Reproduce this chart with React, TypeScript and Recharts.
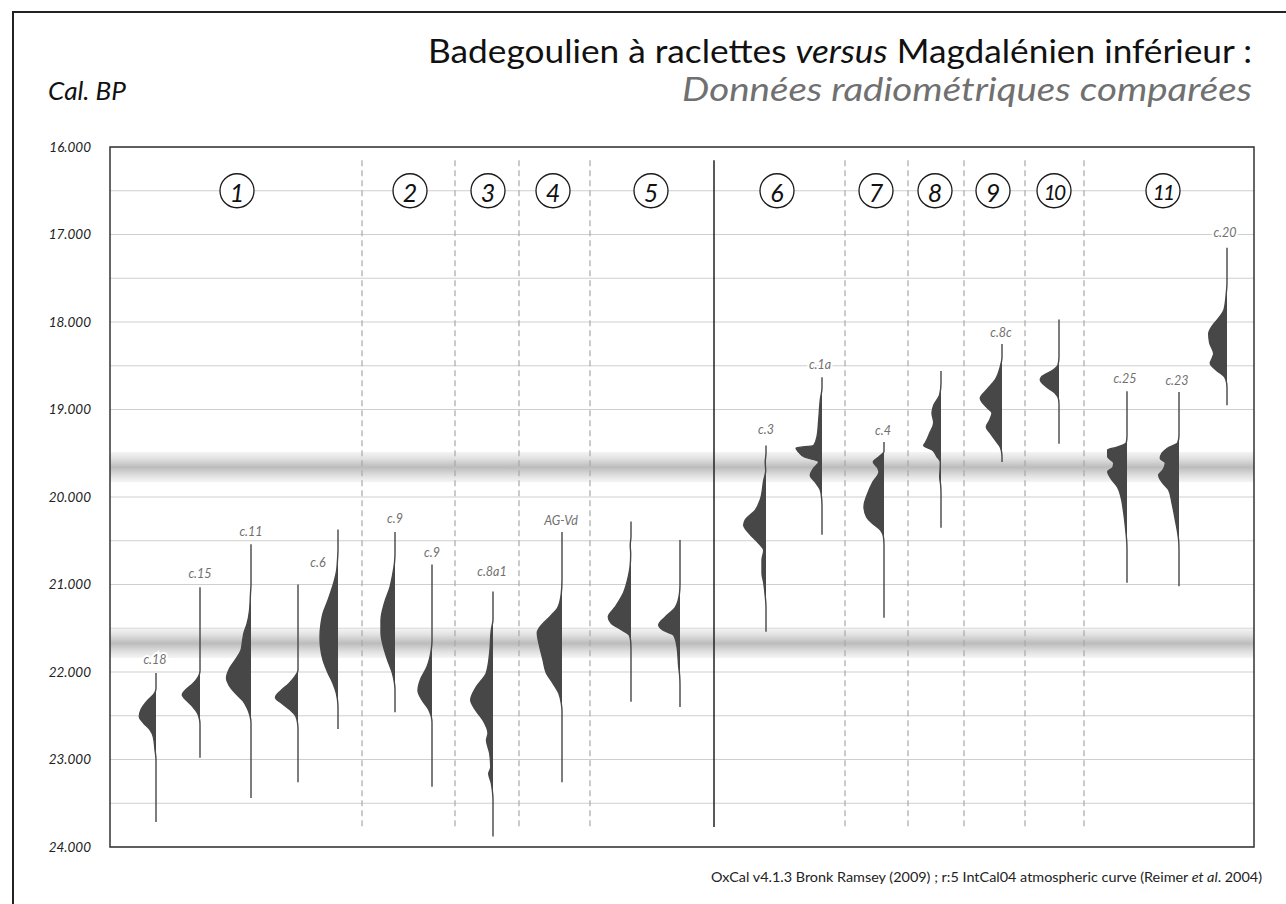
import React from 'react';
import {
  ComposedChart,
  Area,
  XAxis,
  YAxis,
  CartesianGrid,
  ReferenceLine,
  ReferenceArea,
  ReferenceDot,
} from 'recharts';

// ---------- DATA ----------
const YEAR_TICKS = [16000, 16500, 17000, 17500, 18000, 18500, 19000, 19500, 20000, 20500, 21000, 21500, 22000, 22500, 23000, 23500, 24000];
const GROUP_NAMES = ['1', '2', '3', '4', '5', '6', '7', '8', '9', '10', '11'];
const SAMPLE_LABELS = ['c.18', 'c.15', 'c.11', '', 'c.6', 'c.9', 'c.9', 'c.8a1', 'AG-Vd', '', '', 'c.3', 'c.1a', 'c.4', '', 'c.8c', '', 'c.25', 'c.23', 'c.20'];
const BANDS = [[19490, 19830], [21505, 21840]];

// calibrated probability profiles: [cal BP, relative density]
const P_C18 = [[22011, 0], [22190, 0], [22250, 2], [22320, 8], [22430, 15], [22510, 16.7], [22580, 12.7], [22660, 6], [22740, 2.7], [22890, 1], [23000, 0], [23714, 0]];
const P_C15 = [[21030, 0], [21990, 0], [22060, 2], [22130, 7], [22200, 14], [22260, 17.7], [22330, 13], [22400, 7], [22470, 2.5], [22540, 0.5], [22600, 0], [22980, 0]];
const P_C11 = [[20540, 0], [21000, 0], [21100, 0.5], [21300, 1.5], [21450, 4], [21550, 7], [21650, 8.5], [21750, 10], [21850, 15], [21950, 21], [22070, 24.5], [22150, 22], [22250, 15], [22330, 8], [22420, 3.5], [22500, 1], [22580, 0], [23440, 0]];
const P_G1 = [[21000, 0], [21980, 0], [22050, 3], [22130, 9], [22210, 17], [22290, 22.5], [22360, 16], [22430, 8], [22500, 2.5], [22580, 0.5], [22650, 0], [23260, 0]];
const P_C6 = [[20370, 0], [20600, 0], [20720, 0.5], [20850, 1.5], [20950, 3.5], [21080, 7], [21180, 10], [21330, 15], [21450, 17], [21600, 18], [21710, 17.5], [21860, 15], [22010, 10], [22130, 5], [22240, 1.7], [22320, 0.5], [22400, 0], [22650, 0]];
const P_C9A = [[20400, 0], [20650, 0], [20750, 0.5], [20900, 2.5], [21030, 5], [21210, 10.5], [21410, 14], [21550, 14], [21710, 11.5], [21860, 7.5], [22010, 2.7], [22130, 0.5], [22200, 0], [22460, 0]];
const P_C9B = [[20770, 0], [21650, 0], [21750, 0.8], [21850, 2.5], [21940, 5], [22090, 11.7], [22210, 14], [22320, 10], [22430, 3.3], [22510, 0.7], [22580, 0], [23310, 0]];
const P_C8A1 = [[21080, 0], [21400, 0], [21520, 1.7], [21780, 3.3], [22010, 6.7], [22170, 16.7], [22320, 22.3], [22430, 17.7], [22550, 10], [22700, 5], [22780, 6.5], [22930, 3.3], [23090, 2.3], [23160, 4.3], [23270, 1.7], [23350, 0.7], [23450, 0], [23880, 0]];
const P_AGVD = [[20400, 0], [20950, 0], [21100, 0.7], [21260, 4], [21370, 12.3], [21490, 22.3], [21550, 24.7], [21710, 22.3], [21860, 19], [22010, 15.7], [22130, 9], [22240, 3.3], [22360, 0.7], [22450, 0], [23260, 0]];
const P_G5A = [[20280, 0], [20450, 0], [20550, 0.8], [20650, 0.3], [20800, 1], [20910, 2.7], [21100, 7.7], [21260, 16], [21370, 22.7], [21440, 20], [21520, 9.3], [21580, 1.7], [21650, 0.3], [21750, 0], [22340, 0]];
const P_G5B = [[20490, 0], [21000, 0], [21100, 0.5], [21260, 4.7], [21370, 14.7], [21460, 21.3], [21520, 17.3], [21580, 6.3], [21710, 3], [21940, 1.3], [22050, 0.3], [22150, 0], [22400, 0]];
const P_C3 = [[19410, 0], [19500, 0], [19600, 0.8], [19700, 0.3], [19810, 2.3], [20030, 5.7], [20150, 10.7], [20260, 20.7], [20320, 22.3], [20410, 17.3], [20530, 7.3], [20610, 2.3], [20720, 4], [20870, 4], [20980, 2.3], [21140, 0.7], [21250, 0], [21540, 0]];
const P_C1A = [[18630, 0], [18750, 0], [18890, 1.7], [19120, 3.3], [19310, 5], [19410, 8.3], [19440, 26], [19490, 23], [19540, 18], [19600, 3.3], [19670, 8.3], [19750, 11.7], [19830, 6.7], [19920, 1.7], [20000, 0.5], [20100, 0], [20430, 0]];
const P_C4 = [[19370, 0], [19480, 0], [19540, 5], [19600, 10.7], [19660, 6.7], [19710, 5], [19840, 11.7], [19950, 16], [20110, 20], [20230, 17.3], [20300, 11.7], [20380, 3.3], [20460, 0.5], [20550, 0], [21380, 0]];
const P_G8 = [[18560, 0], [18700, 0], [18830, 1.3], [18950, 7.3], [19040, 9], [19150, 7.3], [19270, 11.3], [19380, 15.7], [19410, 17.3], [19460, 9], [19540, 4], [19600, 0.7], [19700, 1], [19770, 1.3], [19870, 0.3], [19950, 0], [20350, 0]];
const P_C8C = [[18250, 0], [18400, 0], [18510, 1.7], [18660, 6.7], [18780, 15.7], [18870, 21.7], [18970, 15.7], [19040, 10], [19120, 12.3], [19200, 15.7], [19270, 11.7], [19350, 6.7], [19430, 1.7], [19480, 0.5], [19540, 0], [19600, 0]];
const P_G10 = [[17970, 0], [18400, 0], [18490, 1], [18550, 6], [18630, 17.7], [18660, 18.7], [18740, 12.7], [18810, 4.3], [18890, 0.3], [18950, 0], [19390, 0]];
const P_C25 = [[18790, 0], [19300, 0], [19380, 0.7], [19430, 10], [19460, 19.3], [19540, 19.3], [19610, 13.3], [19660, 14], [19710, 19.3], [19790, 16], [19890, 9.3], [20000, 6], [20180, 3.3], [20410, 1], [20500, 0.3], [20600, 0], [20980, 0]];
const P_C23 = [[18800, 0], [19300, 0], [19380, 1.3], [19440, 11.3], [19500, 17], [19560, 18.7], [19610, 13.7], [19690, 16], [19750, 20.3], [19830, 17], [19920, 10.3], [20070, 7], [20260, 3.7], [20410, 1.3], [20500, 0.3], [20600, 0], [21020, 0]];
const P_C20 = [[17150, 0], [17550, 0], [17670, 0.7], [17860, 3], [17940, 7.3], [18060, 15.7], [18130, 18.3], [18240, 17.3], [18360, 13.3], [18410, 14.7], [18470, 16.7], [18550, 10.7], [18630, 2.3], [18690, 0.5], [18750, 0], [18950, 0]];

const PROFILES = [P_C18, P_C15, P_C11, P_G1, P_C6, P_C9A, P_C9B, P_C8A1, P_AGVD, P_G5A, P_G5B, P_C3, P_C1A, P_C4, P_G8, P_C8C, P_G10, P_C25, P_C23, P_C20];

// ---------- LAYOUT (horizontal slot positions, not data) ----------
const X_DOMAIN: [number, number] = [0, 1144];
const SAMPLE_X = [46, 90, 141, 188, 228, 285, 322, 383, 452, 521, 570, 656, 712, 774, 831, 892, 949, 1017, 1069, 1117];
const LABEL_SHIFT = [[-1, -13], [0, -14], [0, -13], [0, -13], [-20, 33], [0, -14], [0, -12], [-1, -20], [-1, -12], [0, -13], [0, -13], [0, -16], [-2, -13], [-1, -11], [0, -13], [-1, -11], [0, -13], [-2, -13], [-2, -12], [-2, -15]];
const GROUP_X = [127, 300, 378, 443, 541, 667, 766, 825, 883, 944, 1053];
const SEPARATOR_X = [252, 345, 409, 480, 735, 798, 854, 915, 974];
const MAIN_DIVIDER_X = 604;

const FONT = "Lato, 'Open Sans', 'DejaVu Sans', sans-serif";
const SHAPE_COLOR = '#474747';

const SampleLabel = (props: any) => {
  const vb = props.viewBox || {};
  const cx = (vb.x ?? 0) + (vb.width ?? 0) / 2;
  const cy = (vb.y ?? 0) + (vb.height ?? 0) / 2;
  return (
    <text
      x={cx + props.ddx}
      y={cy + props.ddy}
      textAnchor="middle"
      dominantBaseline="central"
      fontFamily={FONT}
      fontStyle="italic"
      fontSize={12.5}
      fill="#707070"
      stroke="#fff"
      strokeWidth={4}
      paintOrder="stroke"
    >
      {props.txt}
    </text>
  );
};

const GroupLabel = (props: any) => {
  const vb = props.viewBox || {};
  const cx = (vb.x ?? 0) + (vb.width ?? 0) / 2;
  const cy = (vb.y ?? 0) + (vb.height ?? 0) / 2;
  const two = String(props.txt).length > 1;
  return (
    <text
      x={cx}
      y={cy + 1}
      textAnchor="middle"
      dominantBaseline="central"
      fontFamily={FONT}
      fontStyle="italic"
      fontSize={two ? 21 : 25}
      letterSpacing={two ? -2 : 0}
      fill="#111"
    >
      {props.txt}
    </text>
  );
};

const fmtYear = (v: number) => (v % 1000 === 0 ? `${v / 1000}.000` : '');

export default function App() {
  return (
    <div style={{ position: 'absolute', left: 0, top: 0, width: 1286, height: 904, background: '#fff', overflow: 'hidden' }}>
      <svg width={0} height={0} style={{ position: 'absolute' }}>
        <defs>
          <linearGradient id="bandGrad" x1="0" y1="0" x2="0" y2="1">
            <stop offset="0%" stopColor="#f3f3f3" />
            <stop offset="20%" stopColor="#e2e2e2" />
            <stop offset="50%" stopColor="#bcbcbc" />
            <stop offset="80%" stopColor="#e2e2e2" />
            <stop offset="100%" stopColor="#f5f5f5" />
          </linearGradient>
        </defs>
      </svg>

      <div style={{ position: 'absolute', left: 12, top: 11, width: 1400, height: 1.5, background: '#222' }} />
      <div style={{ position: 'absolute', left: 12, top: 11, width: 1.5, height: 1000, background: '#222' }} />

      <div style={{ position: 'absolute', left: 0, top: 0 }}>
        <ComposedChart
          width={1286}
          height={904}
          layout="vertical"
          margin={{ top: 147, right: 32, bottom: 57, left: 10 }}
        >
          <XAxis type="number" dataKey="x" domain={X_DOMAIN} hide allowDataOverflow />
          <YAxis
            type="number"
            dataKey="year"
            domain={[16000, 24000]}
            ticks={YEAR_TICKS}
            interval={0}
            allowDataOverflow
            tickFormatter={fmtYear}
            axisLine={false}
            tickLine={false}
            tickSize={0}
            tickMargin={19}
            width={100}
            tick={{ fontFamily: FONT, fontStyle: 'italic', fontSize: 13.5, fill: '#222' }}
          />
          <CartesianGrid vertical={false} stroke="#cfcfcf" strokeWidth={1} />
          {BANDS.map((b, i) => (
            <ReferenceArea key={`band${i}`} x1={X_DOMAIN[0]} x2={X_DOMAIN[1]} y1={b[0]} y2={b[1]} fill="url(#bandGrad)" fillOpacity={1} stroke="none" ifOverflow="visible" />
          ))}
          {SEPARATOR_X.map((x, i) => (
            <ReferenceLine key={`sep${i}`} segment={[{ x, y: 16150 }, { x, y: 23770 }]} stroke="#a8a8a8" strokeWidth={1.2} strokeDasharray="6 4" />
          ))}
          <ReferenceLine segment={[{ x: MAIN_DIVIDER_X, y: 16150 }, { x: MAIN_DIVIDER_X, y: 23770 }]} stroke="#222" strokeWidth={1.5} />
          {PROFILES.map((p, i) => (
            <Area
              key={`s${i}`}
              data={p.map(([year, d]) => ({ year, x: SAMPLE_X[i] - d }))}
              dataKey="x"
              type="monotone"
              baseValue={SAMPLE_X[i]}
              stroke={SHAPE_COLOR}
              strokeWidth={1.4}
              fill={SHAPE_COLOR}
              fillOpacity={1}
              dot={false}
              activeDot={false}
              isAnimationActive={false}
            />
          ))}
          {PROFILES.map((p, i) =>
            SAMPLE_LABELS[i] ? (
              <ReferenceDot
                key={`lab${i}`}
                x={SAMPLE_X[i]}
                y={p[0][0]}
                r={0}
                stroke="none"
                fill="none"
                label={<SampleLabel txt={SAMPLE_LABELS[i]} ddx={LABEL_SHIFT[i][0]} ddy={LABEL_SHIFT[i][1]} />}
              />
            ) : null
          )}
          {GROUP_NAMES.map((g, i) => (
            <ReferenceDot
              key={`g${i}`}
              x={GROUP_X[i]}
              y={16500}
              r={17}
              fill="#fff"
              stroke="#1a1a1a"
              strokeWidth={1.3}
              label={<GroupLabel txt={g} />}
            />
          ))}
          <ReferenceArea x1={X_DOMAIN[0]} x2={X_DOMAIN[1]} y1={16000} y2={24000} fill="none" stroke="#333" strokeWidth={1.5} ifOverflow="visible" />
        </ComposedChart>
      </div>

      <svg width={1286} height={904} style={{ position: 'absolute', left: 0, top: 0, pointerEvents: 'none' }}>
        <text x={1252} y={63} textAnchor="end" fontFamily={FONT} fontSize={33} fill="#111" textLength={824} lengthAdjust="spacingAndGlyphs">
          Badegoulien à raclettes <tspan fontStyle="italic">versus</tspan> Magdalénien inférieur :
        </text>
        <text x={1252} y={101} textAnchor="end" fontFamily={FONT} fontSize={32} fontStyle="italic" fill="#707070" textLength={570} lengthAdjust="spacingAndGlyphs">
          Données radiométriques comparées
        </text>
        <text x={48} y={100} fontFamily={FONT} fontSize={25} fontStyle="italic" fill="#111" textLength={78} lengthAdjust="spacingAndGlyphs">
          Cal. BP
        </text>
        <text x={1262} y={882} textAnchor="end" fontFamily={FONT} fontSize={13} fill="#222" textLength={551} lengthAdjust="spacingAndGlyphs">
          OxCal v4.1.3 Bronk Ramsey (2009) ; r:5 IntCal04 atmospheric curve (Reimer <tspan fontStyle="italic">et al</tspan>. 2004)
        </text>
      </svg>
    </div>
  );
}
